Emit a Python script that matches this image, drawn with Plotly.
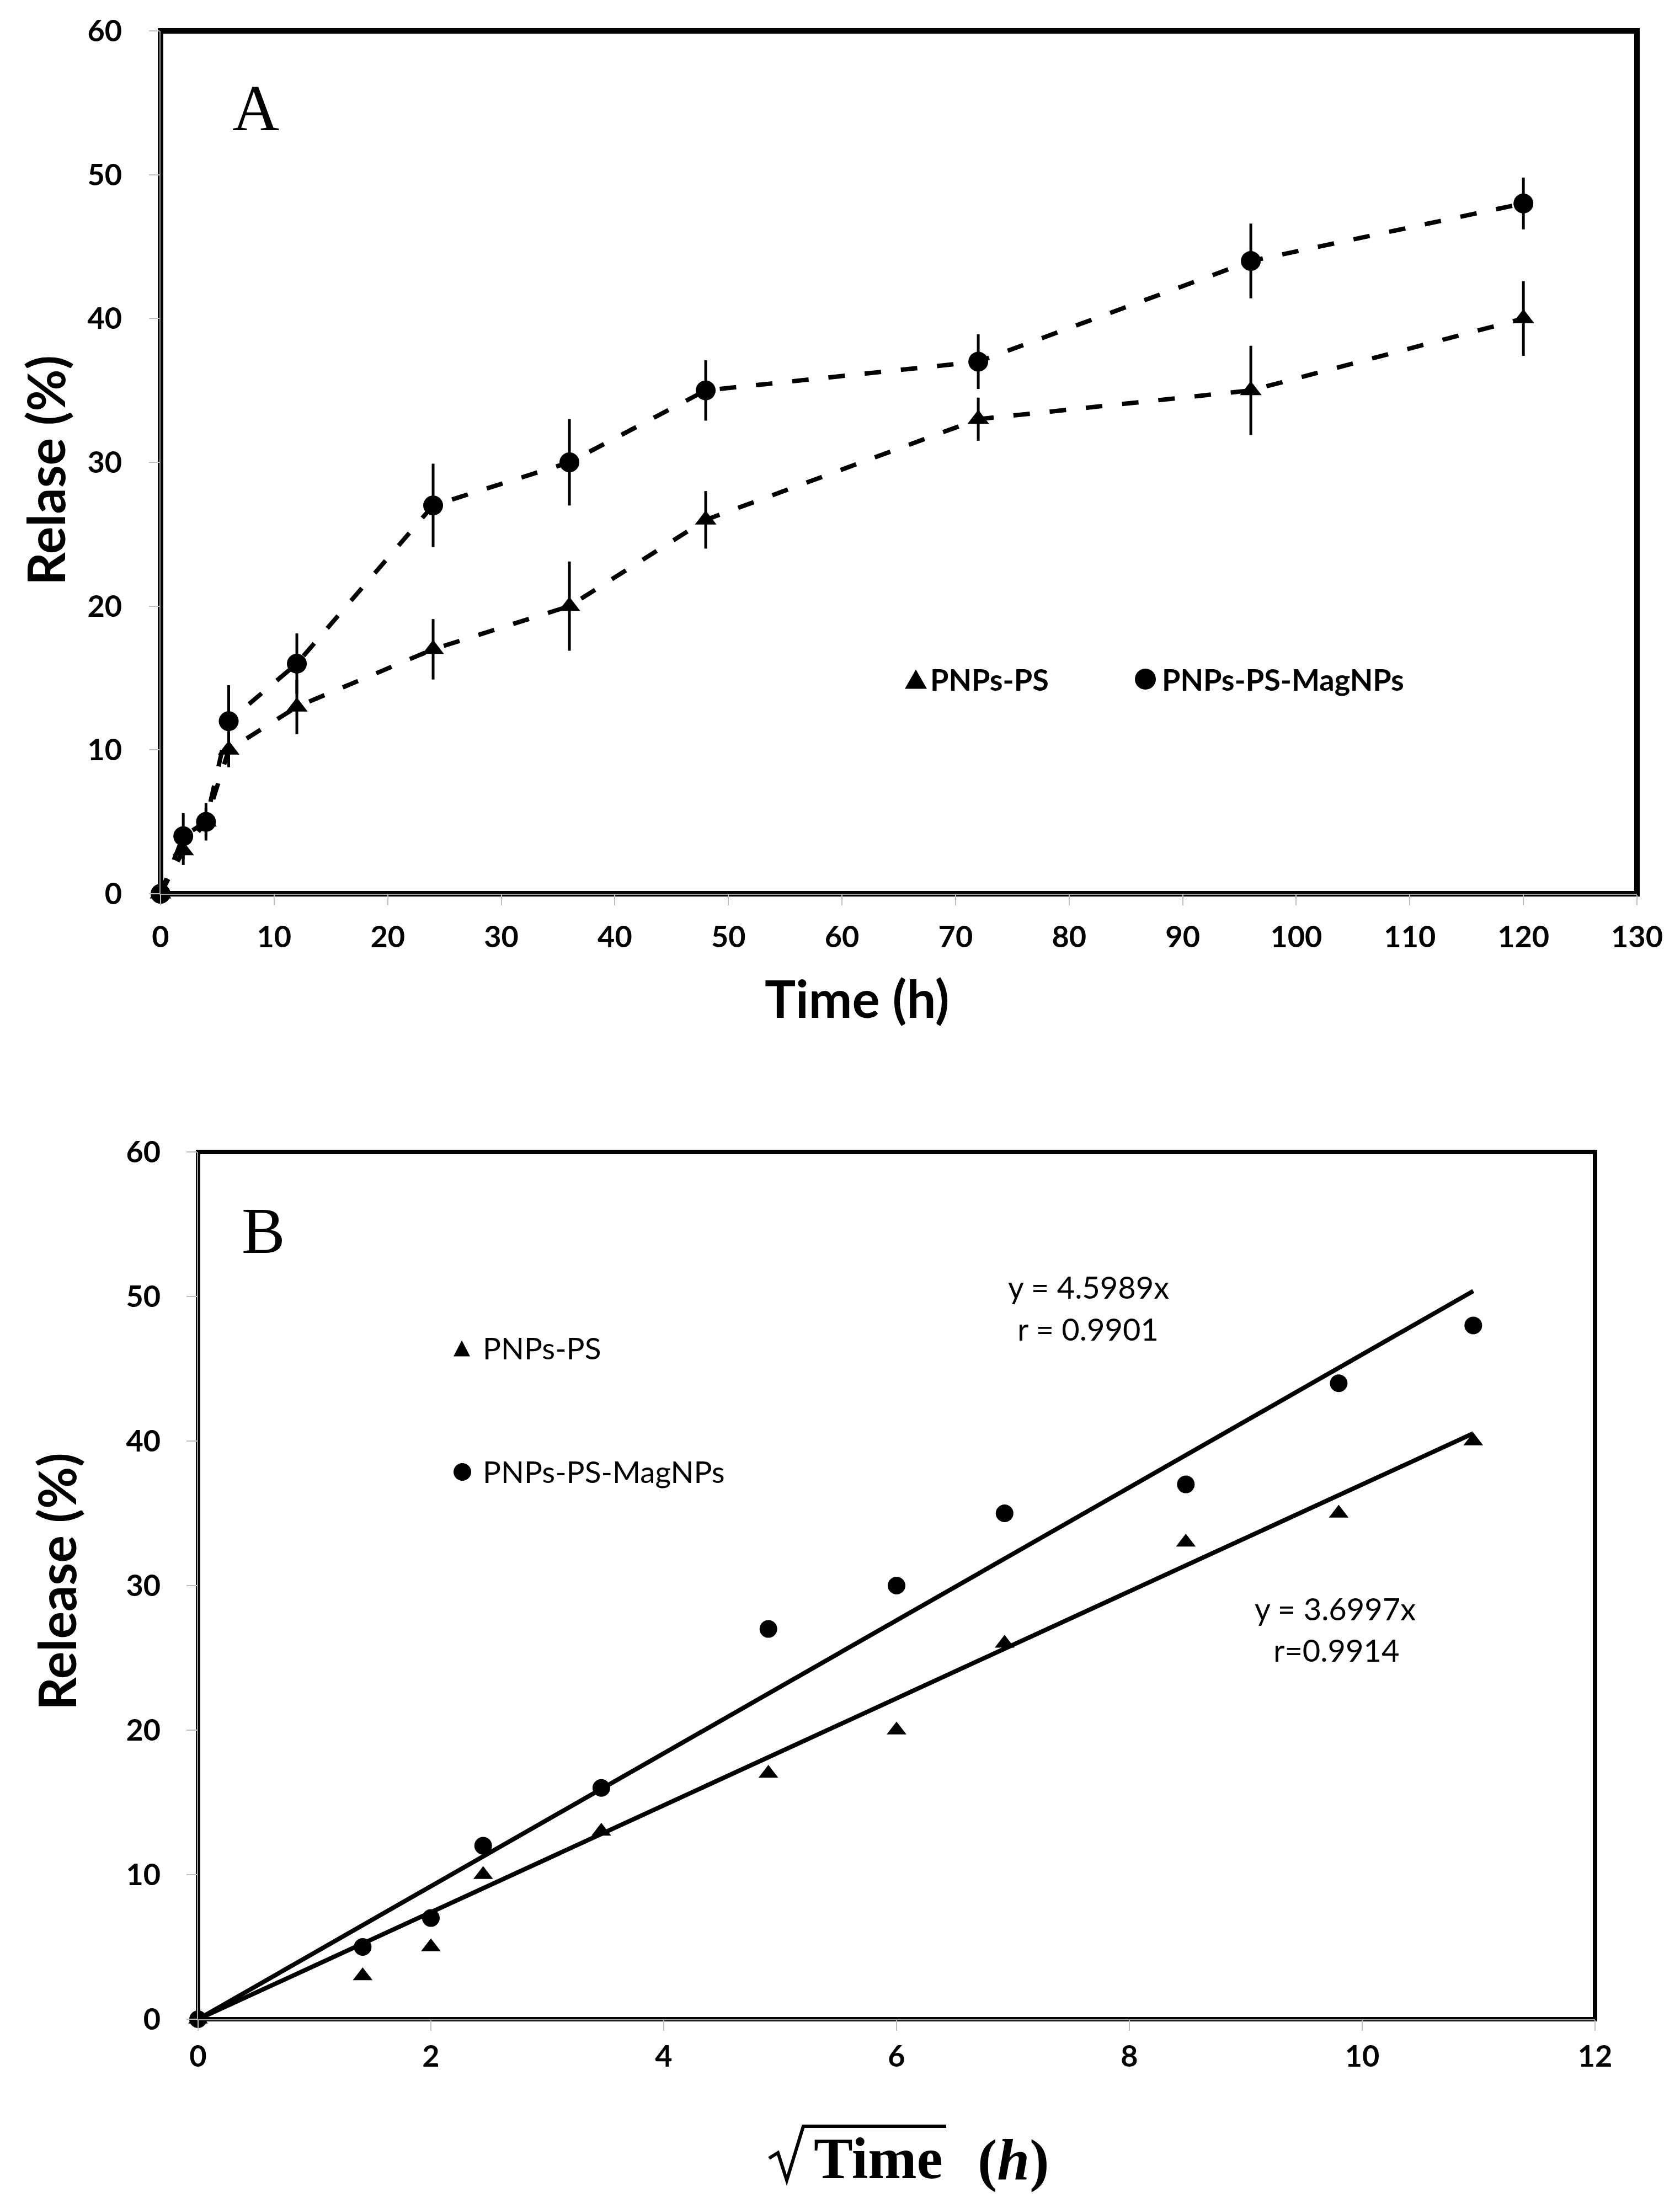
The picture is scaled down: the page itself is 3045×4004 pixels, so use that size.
import plotly.graph_objects as go

W, H = 3045, 4004
OFF = 8  # the page body margin shifts the figure by this many pixels

# Panel A: cumulative release vs time
time_h = [0, 2, 4, 6, 12, 24, 36, 48, 72, 96, 120]
ps_release = [0, 3, 5, 10, 13, 17, 20, 26, 33, 35, 40]
ps_err = [0, 1.0, 1.0, 1.2, 1.9, 2.1, 3.1, 2.0, 1.5, 3.1, 2.6]
mag_release = [0, 4, 5, 12, 16, 27, 30, 35, 37, 44, 48]
mag_err = [0, 1.6, 1.3, 2.5, 2.1, 2.9, 3.0, 2.1, 1.9, 2.6, 1.8]

# Panel B: release vs square root of time (Higuchi plot)
sqrt_time = [0, 1.414, 2, 2.449, 3.464, 4.899, 6, 6.928, 8.485, 9.798, 10.954]
ps_release_b = [0, 3, 5, 10, 13, 17, 20, 26, 33, 35, 40]
mag_release_b = [0, 5, 7, 12, 16, 27, 30, 35, 37, 44, 48]
slope_ps = 3.6997
slope_mag = 4.5989

x_ticks_a = [0, 10, 20, 30, 40, 50, 60, 70, 80, 90, 100, 110, 120, 130]
x_ticks_b = [0, 2, 4, 6, 8, 10, 12]
y_ticks = [0, 10, 20, 30, 40, 50, 60]


def px(x, y):
    """screen pixel position -> paper coords (margins are zero)"""
    return (x - OFF) / W, 1 - (y - OFF) / H


def xdom(x0, x1):
    return [px(x0, 0)[0], px(x1, 0)[0]]


def ydom(top, bottom):
    return [px(0, bottom)[1], px(0, top)[1]]


SANS = "Lato"
SERIF = "Liberation Serif"

fig = go.Figure()

# --- panel A ---
dash_a = "30px,36px"
fig.add_trace(go.Scatter(x=time_h, y=ps_release, mode="lines", xaxis="x", yaxis="y",
                         line=dict(color="black", width=8, dash=dash_a), showlegend=False))
fig.add_trace(go.Scatter(x=time_h, y=mag_release, mode="lines", xaxis="x", yaxis="y",
                         line=dict(color="black", width=8, dash=dash_a), showlegend=False))
fig.add_trace(go.Scatter(x=time_h, y=ps_release, mode="markers", xaxis="x", yaxis="y",
                         name="PNPs-PS", cliponaxis=False,
                         marker=dict(symbol="triangle-up", size=34, color="black"),
                         error_y=dict(type="data", array=ps_err, visible=True,
                                      thickness=5, width=0, color="black"),
                         showlegend=False))
fig.add_trace(go.Scatter(x=time_h, y=mag_release, mode="markers", xaxis="x", yaxis="y",
                         name="PNPs-PS-MagNPs", cliponaxis=False,
                         marker=dict(symbol="circle", size=36, color="black"),
                         error_y=dict(type="data", array=mag_err, visible=True,
                                      thickness=5, width=0, color="black"),
                         showlegend=False))

# --- panel B ---
fig.add_trace(go.Scatter(x=sqrt_time, y=[slope_mag * v for v in sqrt_time], mode="lines",
                         xaxis="x2", yaxis="y2", line=dict(color="black", width=8),
                         showlegend=False))
fig.add_trace(go.Scatter(x=sqrt_time, y=[slope_ps * v for v in sqrt_time], mode="lines",
                         xaxis="x2", yaxis="y2", line=dict(color="black", width=8),
                         showlegend=False))
fig.add_trace(go.Scatter(x=sqrt_time, y=ps_release_b, mode="markers", xaxis="x2", yaxis="y2",
                         name="PNPs-PS", cliponaxis=False,
                         marker=dict(symbol="triangle-up", size=31, color="black"),
                         showlegend=False))
fig.add_trace(go.Scatter(x=sqrt_time, y=mag_release_b, mode="markers", xaxis="x2", yaxis="y2",
                         name="PNPs-PS-MagNPs", cliponaxis=False,
                         marker=dict(symbol="circle", size=32, color="black"),
                         showlegend=False))

axis_common = dict(showgrid=False, zeroline=False, showline=True, linecolor="#a6a6a6",
                   linewidth=2, ticks="outside", ticklen=19, tickwidth=2, tickcolor="#bfbfbf",
                   tickfont=dict(family=SANS, size=54, color="black", weight="bold"),
                   fixedrange=True, automargin=False)

fig.update_layout(
    width=W, height=H, autosize=False,
    margin=dict(l=0, r=0, t=0, b=0, pad=0, autoexpand=False),
    paper_bgcolor="white", plot_bgcolor="white",
    showlegend=False,
    xaxis=dict(axis_common, domain=xdom(291, 2967), range=[0, 130],
               tickvals=x_ticks_a, anchor="y", ticklabelstandoff=11),
    yaxis=dict(axis_common, domain=ydom(56, 1620), range=[0, 60],
               tickvals=y_ticks, anchor="x", ticklabelstandoff=38),
    xaxis2=dict(axis_common, domain=xdom(359, 2891), range=[0, 12],
                tickvals=x_ticks_b, anchor="y2", ticklabelstandoff=0),
    yaxis2=dict(axis_common, domain=ydom(2088, 3660), range=[0, 60],
                tickvals=y_ticks, anchor="x2", ticklabelstandoff=36),
)

shapes = [
    dict(type="rect", xref="x domain", yref="y domain", x0=0, x1=1, y0=0, y1=1,
         line=dict(color="black", width=10), layer="below"),
    dict(type="rect", xref="x2 domain", yref="y2 domain", x0=0, x1=1, y0=0, y1=1,
         line=dict(color="black", width=8), layer="below"),
]


def tri_path(cx, cy, w, h):
    a = px(cx - w / 2, cy + h / 2)
    b = px(cx + w / 2, cy + h / 2)
    c = px(cx, cy - h / 2)
    return f"M {a[0]} {a[1]} L {b[0]} {b[1]} L {c[0]} {c[1]} Z"


def circ(cx, cy, d):
    x0, y0 = px(cx - d / 2, cy + d / 2)
    x1, y1 = px(cx + d / 2, cy - d / 2)
    return dict(type="circle", xref="paper", yref="paper", x0=x0, x1=x1, y0=y0, y1=y1,
                fillcolor="black", line=dict(width=0))


# legend symbols, panel A
shapes.append(dict(type="path", xref="paper", yref="paper", path=tri_path(1660, 1231, 40, 35),
                   fillcolor="black", line=dict(width=0)))
shapes.append(circ(2076, 1231, 38))
# legend symbols, panel B
shapes.append(dict(type="path", xref="paper", yref="paper", path=tri_path(837, 2444, 30, 29),
                   fillcolor="black", line=dict(width=0)))
shapes.append(circ(838, 2668, 32))

# radical sign with vinculum for the panel B x title
pts = [(1394, 3912), (1410, 3902), (1426, 3952), (1456, 3854), (1715, 3854)]
rad = "M " + " L ".join(f"{px(x, y)[0]} {px(x, y)[1]}" for x, y in pts)
shapes.append(dict(type="path", xref="paper", yref="paper", path=rad,
                   line=dict(color="black", width=6)))

fig.update_layout(shapes=shapes)


def note(text, x, y, size, family=SANS, bold=False, angle=0, xanchor="center"):
    ax, ay = px(x, y)
    fig.add_annotation(x=ax, y=ay, xref="paper", yref="paper", text=text, showarrow=False,
                       xanchor=xanchor, yanchor="middle", textangle=angle,
                       font=dict(family=family, size=size, color="black",
                                 weight="bold" if bold else "normal"))


# panel A texts
note("A", 463, 197, 118, family=SERIF)
note("Relase (%)", 82, 853, 93, bold=True, angle=-90)
note("Time (h)", 1553, 1808, 94, bold=True)
note("PNPs-PS", 1684, 1231, 54, bold=True, xanchor="left")
note("PNPs-PS-MagNPs", 2104, 1231, 54, bold=True, xanchor="left")

# panel B texts
note("B", 477, 2231, 118, family=SERIF)
note("Release (%)", 102, 2867, 93, bold=True, angle=-90)
note("Time", 1592, 3912, 106, family=SERIF, bold=True)
note("(<i>h</i>)", 1837, 3915, 106, family=SERIF, bold=True)
note("PNPs-PS", 873, 2443, 55, xanchor="left")
note("PNPs-PS-MagNPs", 873, 2667, 55, xanchor="left")
note("y = 4.5989x", 1973, 2332, 56)
note("r = 0.9901", 1972, 2408, 56)
note("y = 3.6997x", 2420, 2915, 56)
note("r=0.9914", 2422, 2990, 56)

fig.write_html("out.html", config={"displayModeBar": False})
